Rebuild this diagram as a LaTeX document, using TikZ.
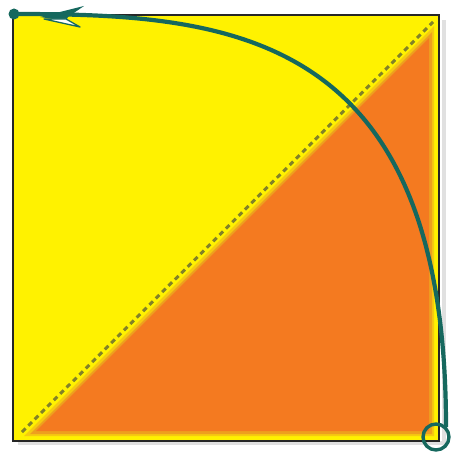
\documentclass[tikz,border=0pt]{standalone}
\usetikzlibrary{calc}
\definecolor{sqyellow}{RGB}{255,242,0}
\definecolor{sqorange}{RGB}{244,122,32}
\definecolor{edgeochre}{RGB}{236,170,30}
\definecolor{dashol}{RGB}{130,130,40}
\definecolor{arcteal}{RGB}{22,104,94}
\begin{document}
\begin{tikzpicture}[x=1pt,y=-1pt,
  squareframe/.style={draw=black!85,line width=2.4pt,fill=sqyellow},
  diagdash/.style={draw=dashol,line width=3pt,dash pattern=on 5pt off 4pt},
  arcline/.style={draw=arcteal,line width=4.2pt},
  endring/.style={draw=arcteal,line width=3.4pt},
  enddot/.style={fill=arcteal}]
\useasboundingbox (0,0) rectangle (459,462);
% coordinates
\coordinate (tl) at (13,15);
\coordinate (br) at (439,441);
% shadow
\fill[black!12] (442,20) rectangle (446,445);
\fill[black!12] (18,441) rectangle (446,445);
% square
\path[squareframe] (tl) rectangle (br);
% orange triangle with soft edge
\fill[edgeochre!55!sqyellow] (24,436) -- (434,436) -- (434,26) -- cycle;
\fill[edgeochre!80!sqorange] (30,434) -- (432,434) -- (432,32) -- cycle;
\fill[sqorange] (36,431) -- (429,431) -- (429,38) -- cycle;
% dashed diagonal
\coordinate (d1) at (22,432);
\coordinate (d2) at (433,22);
\draw[diagdash] (d1) -- (d2);
% arc
\coordinate (ringc) at (436,437);
\coordinate (arcstart) at (446,427);
\coordinate (arcend) at (14,14);
\draw[arcline] (arcstart) .. controls (446,30) and (230,14) .. (arcend);
\draw[endring] (ringc) circle (13);
\fill[enddot] (arcend) circle (5.5);
% arrowhead
\coordinate (tip) at (40,17);
\coordinate (ub) at (84,6);
\coordinate (notch) at (68,17);
\coordinate (lb) at (80,27);
\fill[arcteal] (tip) -- (ub) -- (notch) -- (66,21) -- cycle;
\filldraw[fill=white,draw=arcteal,line width=1.3pt,line join=round] (44,19) -- (66,19) -- (lb) -- cycle;
\end{tikzpicture}
\end{document}
